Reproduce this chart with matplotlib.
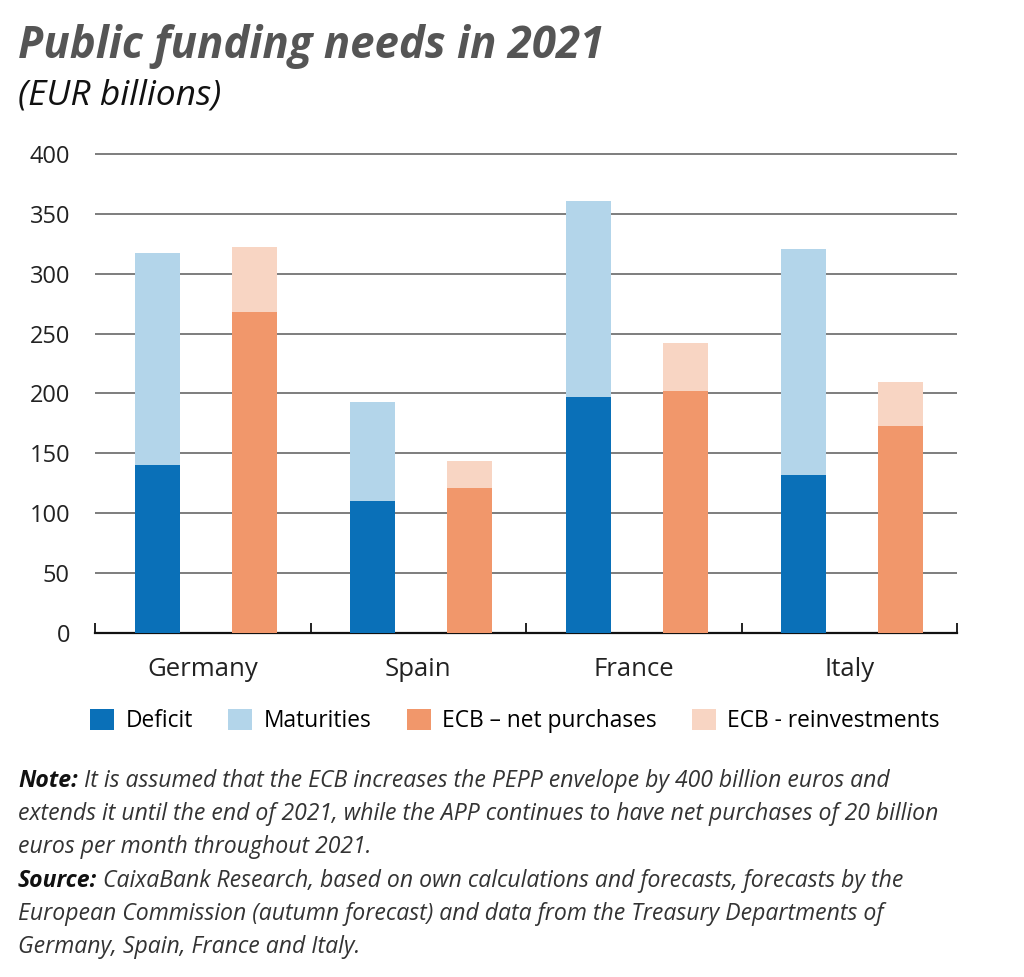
import numpy as np
import matplotlib
matplotlib.use("Agg")
import matplotlib.pyplot as plt
from matplotlib.patches import Patch

# valores (EUR miles de millones)
countries = ["Germany", "Spain", "France", "Italy"]
deficit = [140, 110, 197, 132]
maturities = [177, 83, 164, 189]
ecb_net = [268, 121, 202, 173]
ecb_reinv = [54, 23, 40, 37]

series_names = ["Deficit", "Maturities", "ECB \u2013 net purchases", "ECB - reinvestments"]
colors = ["#0a70b8", "#b3d5ea", "#f1976b", "#f8d5c3"]

title = "Public funding needs in 2021"
subtitle = "(EUR billions)"
note_lines = [
    ("Note:", " It is assumed that the ECB increases the PEPP envelope by 400 billion euros and"),
    ("", "extends it until the end of 2021, while the APP continues to have net purchases of 20 billion"),
    ("", "euros per month throughout 2021."),
    ("Source:", " CaixaBank Research, based on own calculations and forecasts, forecasts by the"),
    ("", "European Commission (autumn forecast) and data from the Treasury Departments of"),
    ("", "Germany, Spain, France and Italy."),
]

FONT = ["Open Sans", "DejaVu Sans"]
plt.rcParams["font.family"] = FONT

W, H = 1024, 977
fig = plt.figure(figsize=(W / 100, H / 100), dpi=100)
fig.patch.set_facecolor("white")

ax = fig.add_axes([95 / W, 1 - 633 / H, (957 - 95) / W, (633 - 151.6) / H])

x = np.arange(len(countries))
bw = 0.209
xd = x - 0.212
xe = x + 0.238
ax.bar(xd, deficit, bw, color=colors[0], zorder=3)
ax.bar(xd, maturities, bw, bottom=deficit, color=colors[1], zorder=3)
ax.bar(xe, ecb_net, bw, color=colors[2], zorder=3)
ax.bar(xe, ecb_reinv, bw, bottom=ecb_net, color=colors[3], zorder=3)

ax.set_xlim(-0.5, len(countries) - 0.5)
ax.set_ylim(0, 402)
ax.set_yticks(np.arange(0, 401, 50))
ax.yaxis.grid(True, color="#5a5a5a", linewidth=1.1)
ax.set_axisbelow(True)
ax.tick_params(axis="y", length=0, pad=18, labelsize=17, labelcolor="#222222")

ax.set_xticks(np.arange(-0.5, len(countries)), minor=False)
ax.set_xticklabels([])
ax.tick_params(axis="x", which="major", direction="in", length=7, width=1.3, color="#111111")
ax.set_xticks(x, minor=True)
ax.set_xticklabels(countries, minor=True)
ax.tick_params(axis="x", which="minor", length=0, pad=17, labelsize=18.5, labelcolor="#222222")

for s in ["top", "right", "left"]:
    ax.spines[s].set_visible(False)
ax.spines["bottom"].set_color("#111111")
ax.spines["bottom"].set_linewidth(1.6)

# titulo
fig.text(18 / W, 1 - 58 / H, title, fontsize=31.5, fontweight="bold", fontstyle="italic",
         color="#555555", va="baseline", ha="left")
fig.text(18 / W, 1 - 105 / H, subtitle, fontsize=25.5, fontstyle="italic",
         color="#111111", va="baseline", ha="left")

# leyenda
handles = [Patch(facecolor=c, edgecolor="none") for c in colors]
fig.legend(handles, series_names, loc="center", bbox_to_anchor=(515 / W, 1 - 721 / H),
           ncol=4, frameon=False, fontsize=16.4, handlelength=1.05, handleheight=1.05,
           handletextpad=0.5, columnspacing=1.55)

# nota y fuente
renderer = fig.canvas.get_renderer()
base = 787
fs = 16.6
for i, (bold, rest) in enumerate(note_lines):
    yy = 1 - (base + i * 33.2) / H
    x0 = 18 / W
    if bold:
        t = fig.text(x0, yy, bold, fontsize=fs, fontweight="bold", fontstyle="italic",
                     color="#111111", va="baseline", ha="left")
        x0 += t.get_window_extent(renderer).width / W
    fig.text(x0, yy, rest, fontsize=fs, fontstyle="italic", color="#333333",
             va="baseline", ha="left")

fig.savefig("out.png", dpi=100, facecolor="white")
